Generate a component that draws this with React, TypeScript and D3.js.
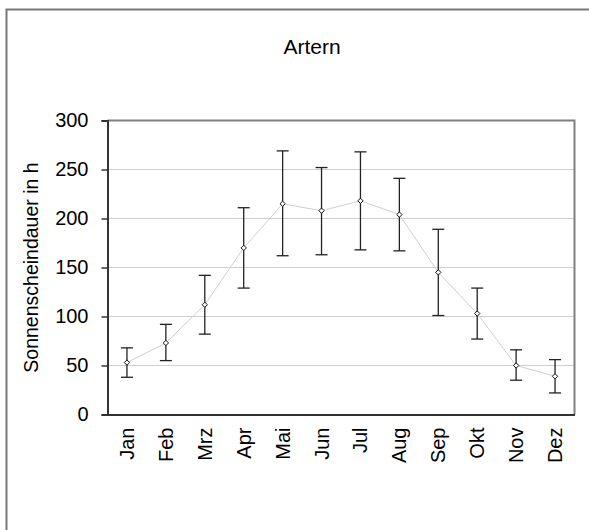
import React, { useEffect, useRef } from "react";
import * as d3 from "d3";

const months = ["Jan", "Feb", "Mrz", "Apr", "Mai", "Jun", "Jul", "Aug", "Sep", "Okt", "Nov", "Dez"];
const meanHours = [53, 73, 112, 170, 215, 208, 218, 204, 145, 103, 50, 39];
const upperHours = [68, 92, 142, 211, 269, 252, 268, 241, 189, 129, 66, 56];
const lowerHours = [38, 55, 82, 129, 162, 163, 168, 167, 101, 77, 35, 22];
const yTicks = [0, 50, 100, 150, 200, 250, 300];

export default function App() {
  const ref = useRef<SVGSVGElement>(null);

  useEffect(() => {
    const svg = d3.select(ref.current);
    svg.selectAll("*").remove();

    const width = 589;
    const height = 530;
    const margin = { left: 107.5, right: 14.5, top: 120.5, bottom: 115.5 };
    const font = "Arial, 'Liberation Sans', sans-serif";

    svg.append("rect").attr("width", width).attr("height", height).attr("fill", "#fff");

    // outer frame (right and bottom edges are off-page)
    svg.append("rect")
      .attr("x", 6.5).attr("y", 9.5)
      .attr("width", 700).attr("height", 700)
      .attr("fill", "none").attr("stroke", "#777").attr("stroke-width", 2);

    svg.append("text")
      .attr("x", 312).attr("y", 54)
      .attr("text-anchor", "middle")
      .style("font-family", font).style("font-size", "21px")
      .text("Artern");

    const x = d3.scaleBand().domain(months)
      .range([margin.left, width - margin.right]);
    const y = d3.scaleLinear().domain([0, 300])
      .range([height - margin.bottom, margin.top]);

    // gridlines
    svg.append("g").selectAll("line")
      .data(yTicks.filter(t => t > 0 && t < 300))
      .join("line")
      .attr("x1", margin.left).attr("x2", width - margin.right)
      .attr("y1", d => y(d)).attr("y2", d => y(d))
      .attr("stroke", "#cfcfcf").attr("stroke-width", 1);

    // top and right border
    svg.append("path")
      .attr("d", `M${margin.left},${y(300)}H${width - margin.right}V${y(0)}`)
      .attr("fill", "none").attr("stroke", "#808080").attr("stroke-width", 2);

    // y axis
    const yAxis = svg.append("g")
      .attr("transform", `translate(${margin.left},0)`)
      .call(d3.axisLeft(y).tickValues(yTicks).tickSize(6).tickPadding(13));
    yAxis.select(".domain").attr("stroke", "#333").attr("stroke-width", 2);
    yAxis.selectAll(".tick line").attr("stroke", "#333").attr("stroke-width", 1.5);
    yAxis.selectAll("text")
      .style("font-family", font).style("font-size", "20px").attr("fill", "#000");

    // x axis
    const xAxis = svg.append("g")
      .attr("transform", `translate(0,${y(0)})`)
      .call(d3.axisBottom(x).tickSize(0).tickPadding(0));
    xAxis.select(".domain").attr("stroke", "#333").attr("stroke-width", 2);
    xAxis.selectAll("text")
      .attr("transform", "rotate(-90)")
      .attr("x", -13).attr("y", 0).attr("dy", "0.35em")
      .attr("text-anchor", "end")
      .style("font-family", font).style("font-size", "20px").attr("fill", "#000");

    svg.append("text")
      .attr("transform", `translate(38,${(y(0) + y(300)) / 2}) rotate(-90)`)
      .attr("text-anchor", "middle")
      .style("font-family", font).style("font-size", "19.5px")
      .text("Sonnenscheindauer in h");

    const cx = (m: string) => (x(m) as number) + x.bandwidth() / 2;

    // connecting line
    const line = d3.line<number>()
      .x((_, i) => cx(months[i]))
      .y(d => y(d));
    svg.append("path")
      .datum(meanHours)
      .attr("d", line)
      .attr("fill", "none").attr("stroke", "#d0d0d0").attr("stroke-width", 1);

    // error bars
    const bars = svg.append("g").attr("stroke", "#222").attr("stroke-width", 1.3);
    months.forEach((m, i) => {
      const px = cx(m);
      bars.append("line")
        .attr("x1", px).attr("x2", px)
        .attr("y1", y(upperHours[i])).attr("y2", y(lowerHours[i]));
      [upperHours[i], lowerHours[i]].forEach(v => {
        bars.append("line")
          .attr("x1", px - 6).attr("x2", px + 6)
          .attr("y1", y(v)).attr("y2", y(v));
      });
    });

    // diamond markers
    svg.append("g").selectAll("path")
      .data(meanHours)
      .join("path")
      .attr("d", d3.symbol(d3.symbolDiamond2, 18))
      .attr("transform", (d, i) => `translate(${cx(months[i])},${y(d)})`)
      .attr("fill", "#fff").attr("stroke", "#111").attr("stroke-width", 1);
  }, []);

  return (
    <svg ref={ref} width={589} height={530}
      style={{ position: "absolute", left: 0, top: 0 }} />
  );
}
